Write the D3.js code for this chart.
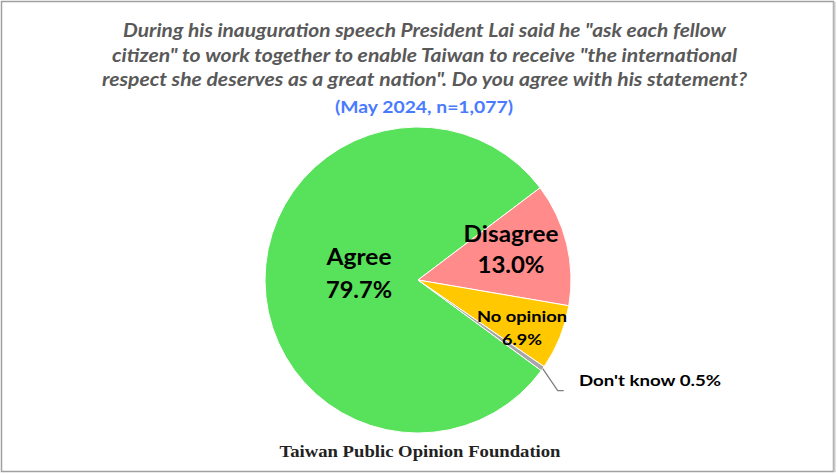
<!DOCTYPE html>
<html><head><meta charset="utf-8">
<script src="https://cdn.jsdelivr.net/npm/d3@7"></script>
<style>body{margin:0;background:#fff}svg{display:block}</style>
</head><body>
<svg id="c" width="837" height="475"></svg>
<script>
const categories = ["Agree", "Disagree", "No opinion", "Don't know"];
const values = [79.7, 13.0, 6.9, 0.5];
const colors = ["#58E15A", "#FF8B8B", "#FFC800", "#A6A6A6"];
const titleLines = [
  "During his inauguration speech President Lai said he \"ask each fellow",
  "citizen\" to work together to enable Taiwan to receive \"the international",
  "respect she deserves as a great nation\". Do you agree with his statement?"
];
const subtitle = "(May 2024, n=1,077)";
const footer = "Taiwan Public Opinion Foundation";

const svg = d3.select("#c");
// frame
svg.append("rect").attr("x",1.5).attr("y",1.5).attr("width",832).attr("height",470)
  .attr("fill","#fff").attr("stroke","#A0A0A0").attr("stroke-width",1.5);
svg.append("line").attr("x1",834.5).attr("x2",834.5).attr("y1",2).attr("y2",472)
  .attr("stroke","#C8C8C8").attr("stroke-width",2);

// title
const FONT = "Lato, 'Open Sans', sans-serif";
const tg = svg.append("g").attr("font-family",FONT)
  .attr("font-style","italic").attr("font-weight","bold").attr("fill","#595959")
  .attr("text-anchor","middle");
const tY = [37, 61.5, 86], tW = [603, 625, 645];
titleLines.forEach((t,i)=>{
  tg.append("text").attr("x",424.5).attr("y",tY[i]).attr("font-size",19.5)
    .attr("textLength", tW[i]).attr("lengthAdjust","spacingAndGlyphs").text(t);
});
svg.append("text").attr("x",424).attr("y",113).attr("text-anchor","middle")
  .attr("font-family",FONT).attr("font-weight","bold")
  .attr("font-size",17).attr("fill","#4A7BFF")
  .attr("textLength",178).attr("lengthAdjust","spacingAndGlyphs").text(subtitle);

// pie
const cx = 418, cy = 280, R = 153;
const offset = 126.3 * Math.PI/180;
const pie = d3.pie().sort(null).value(d=>d)
  .startAngle(offset).endAngle(offset + 2*Math.PI);
const arcs = pie(values);
const arc = d3.arc().innerRadius(0).outerRadius(R);
const g = svg.append("g").attr("transform",`translate(${cx},${cy})`);
g.selectAll("path").data(arcs).join("path")
  .attr("d",arc).attr("fill",(d,i)=>colors[i])
  .attr("stroke","#fff").attr("stroke-width",1);

// labels
const lab = svg.append("g").attr("font-family",FONT)
  .attr("font-weight","bold").attr("fill","#000").attr("text-anchor","middle");
function two(x,y,l1,l2,fs,gap,w1,w2){
  lab.append("text").attr("x",x).attr("y",y).attr("font-size",fs)
    .attr("textLength",w1).attr("lengthAdjust","spacingAndGlyphs").text(l1);
  lab.append("text").attr("x",x).attr("y",y+gap).attr("font-size",fs)
    .attr("textLength",w2).attr("lengthAdjust","spacingAndGlyphs").text(l2);
}
const fmt = v => v.toFixed(1) + "%";
two(359,265,categories[0],fmt(values[0]),22.5,33,65,66);
two(511,242,categories[1],fmt(values[1]),22.5,31,95,67);
two(522,322,categories[2],fmt(values[2]),16,23,90,40);

// Don't know leader
const a3 = arcs[3];
const mid = (a3.startAngle + a3.endAngle)/2;
const px = cx + R*Math.sin(mid), py = cy - R*Math.cos(mid);
svg.append("polyline")
  .attr("points",`${px},${py} ${px+15},${py+22} ${px+21},${py+22}`)
  .attr("fill","none").attr("stroke","#7F7F7F").attr("stroke-width",1.3);
svg.append("text").attr("x",579).attr("y",386).attr("font-family",FONT)
  .attr("font-weight","bold").attr("font-size",16).attr("fill","#000")
  .attr("textLength",142).attr("lengthAdjust","spacingAndGlyphs")
  .text(categories[3] + " " + fmt(values[3]));

// footer
svg.append("text").attr("x",420).attr("y",457).attr("text-anchor","middle")
  .attr("font-family","'Liberation Serif', serif").attr("font-weight","bold")
  .attr("font-size",17).attr("fill","#222")
  .attr("textLength",281).attr("lengthAdjust","spacingAndGlyphs").text(footer);
</script>
</body></html>
